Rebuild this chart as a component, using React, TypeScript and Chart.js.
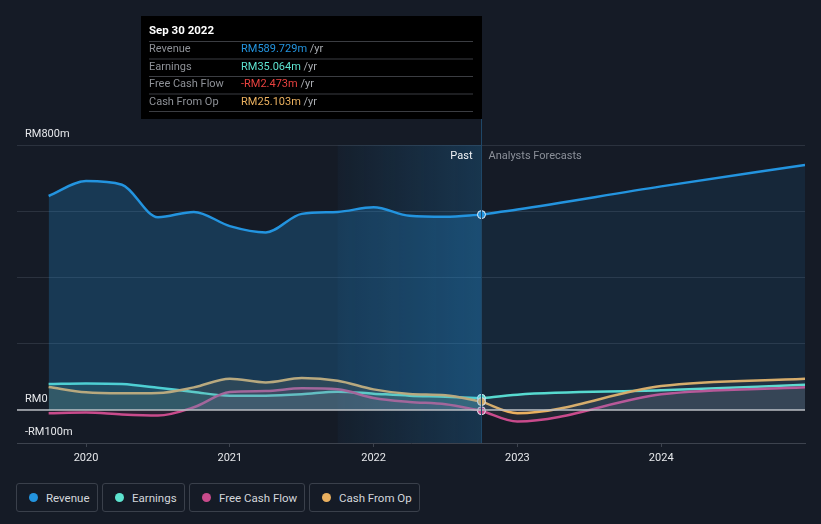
import React, { useEffect, useRef } from "react";
import { Chart, registerables } from "chart.js";

Chart.register(...registerables);

const BG = "#151b26";
const FONT = "Roboto, 'Noto Sans', sans-serif";

// decimal years (quarter ends)
const pastDates = [2019.74, 2020.0, 2020.25, 2020.5, 2020.75, 2021.0, 2021.25, 2021.5, 2021.75, 2022.0, 2022.25, 2022.5, 2022.75];
const revenuePast = [646, 691, 680, 582, 598, 555, 536, 592, 598, 612, 586, 583, 589.729];
const earningsPast = [78, 80, 78, 67, 54, 43, 43, 47, 55, 49, 43, 40, 35.064];
const fcfPast = [-10, -8, -14, -17, 8, 54, 57, 65, 62, 36, 24, 17, -2.473];
const cfoPast = [69, 53, 50, 51, 68, 94, 83, 96, 88, 62, 48, 44, 25.103];

const forecastDates = [2022.75, 2023.0, 2024.0, 2025.0];
const revenueFc = [589.729, 605, 675, 740];
const earningsFc = [35.064, 46, 59, 76];
const fcfFc = [-2.473, -35, 47, 68];
const cfoFc = [25.103, -10, 72, 94];

const yTicks = [-100, 0, 200, 400, 600, 800];
const yLabelTicks = [800, 0, -100];
const xTicks = [2020, 2021, 2022, 2023, 2024];
const X_MIN = 2019.52;
const X_MAX = 2025.0;
const HIGHLIGHT_START = 2021.75;
const NOW = 2022.75;

const COLORS = {
  revenue: "#2394df",
  earnings: "#5de3cf",
  fcf: "#c94b8c",
  cfo: "#eab05f",
};

const tooltipTitle = "Sep 30 2022";
const tooltipRows = [
  { label: "Revenue", value: "RM589.729m", color: "#2394df" },
  { label: "Earnings", value: "RM35.064m", color: "#5de3cf" },
  { label: "Free Cash Flow", value: "-RM2.473m", color: "#e8423f" },
  { label: "Cash From Op", value: "RM25.103m", color: "#eab05f" },
];

const legendItems = [
  { label: "Revenue", color: COLORS.revenue, width: 82 },
  { label: "Earnings", color: COLORS.earnings, width: 83 },
  { label: "Free Cash Flow", color: COLORS.fcf, width: 116 },
  { label: "Cash From Op", color: COLORS.cfo, width: 111 },
];

function fmtY(v: number) {
  if (v === 0) return "RM0";
  if (v < 0) return "-RM" + Math.abs(v) + "m";
  return "RM" + v + "m";
}

function pts(xs: number[], ys: number[]) {
  return xs.map((x, i) => ({ x, y: ys[i] }));
}

export default function App() {
  const ref = useRef<HTMLCanvasElement>(null);

  useEffect(() => {
    document.body.style.margin = "0";
    document.body.style.background = BG;
    const lastIdx = pastDates.length - 1;
    const dot = (c: string) => ({
      pointRadius: (ctx: any) => (ctx.dataIndex === lastIdx ? 4 : 0),
      pointBackgroundColor: c,
      pointBorderColor: "#e8eef5",
      pointBorderWidth: 1,
      pointHoverRadius: 0,
    });
    const lineBase = {
      borderWidth: 2.5,
      cubicInterpolationMode: "monotone" as const,
      tension: 0.4,
    };

    const bgPlugin = {
      id: "bgPlugin",
      beforeDatasetsDraw(chart: any) {
        const { ctx, chartArea, scales } = chart;
        const x0 = scales.x.getPixelForValue(HIGHLIGHT_START);
        const x1 = scales.x.getPixelForValue(NOW);
        const g = ctx.createLinearGradient(x0, 0, x1, 0);
        g.addColorStop(0, "rgba(35,148,223,0.04)");
        g.addColorStop(1, "rgba(35,148,223,0.22)");
        ctx.save();
        ctx.fillStyle = g;
        ctx.fillRect(x0, chartArea.top, x1 - x0, chartArea.bottom - chartArea.top);
        ctx.restore();
      },
      afterDatasetsDraw(chart: any) {
        const { ctx, chartArea, scales } = chart;
        ctx.save();
        const y0 = scales.y.getPixelForValue(0);
        ctx.strokeStyle = "#b9bcc2";
        ctx.lineWidth = 1.5;
        ctx.beginPath();
        ctx.moveTo(chartArea.left, y0);
        ctx.lineTo(chartArea.right, y0);
        ctx.stroke();
        ctx.restore();
      },
      afterDraw(chart: any) {
        const { ctx, chartArea, scales } = chart;
        ctx.save();
        ctx.font = `11px ${FONT}`;
        ctx.fillStyle = "#e6e8eb";
        ctx.textAlign = "left";
        ctx.textBaseline = "bottom";
        for (const v of yLabelTicks) {
          const y = scales.y.getPixelForValue(v);
          ctx.fillText(fmtY(v), chartArea.left + 8, y - 5);
        }
        const xn = Math.round(scales.x.getPixelForValue(NOW)) + 0.5;
        ctx.textBaseline = "middle";
        ctx.textAlign = "right";
        ctx.fillStyle = "#f0f2f5";
        ctx.fillText("Past", xn - 9, chartArea.top + 11);
        ctx.textAlign = "left";
        ctx.fillStyle = "#8b9099";
        ctx.fillText("Analysts Forecasts", xn + 7, chartArea.top + 11);

        const boxTop = 16, boxBottom = 119, boxLeft = 141;
        ctx.strokeStyle = "#1f4767";
        ctx.lineWidth = 1;
        ctx.beginPath();
        ctx.moveTo(xn, boxBottom);
        ctx.lineTo(xn, chartArea.bottom);
        ctx.stroke();

        ctx.fillStyle = "#000000";
        ctx.fillRect(boxLeft, boxTop, xn + 0.5 - boxLeft, boxBottom - boxTop);
        ctx.fillStyle = "#ffffff";
        ctx.font = `bold 11.5px ${FONT}`;
        ctx.textAlign = "left";
        ctx.textBaseline = "middle";
        ctx.fillText(tooltipTitle, 149, 31.5);
        const sepYs = [41, 58.5, 76, 93.5, 111];
        ctx.strokeStyle = "#3b3d42";
        ctx.lineWidth = 1;
        for (const sy of sepYs) {
          ctx.beginPath();
          ctx.moveTo(149, sy + 0.5);
          ctx.lineTo(473, sy + 0.5);
          ctx.stroke();
        }
        ctx.font = `11px ${FONT}`;
        tooltipRows.forEach((r, i) => {
          const cy = 49.5 + i * 17.5;
          ctx.fillStyle = "#8e9197";
          ctx.fillText(r.label, 149, cy);
          ctx.fillStyle = r.color;
          ctx.fillText(r.value, 241, cy);
          const w = ctx.measureText(r.value + " ").width;
          ctx.fillStyle = "#a9acb1";
          ctx.fillText("/yr", 241 + w, cy);
        });
        ctx.restore();
      },
    };

    const chart = new Chart(ref.current!, {
      type: "line",
      data: {
        datasets: [
          {
            label: "Revenue",
            data: pts(pastDates, revenuePast),
            borderColor: COLORS.revenue,
            fill: "origin",
            backgroundColor: "rgba(35,148,223,0.25)",
            ...lineBase,
            ...dot(COLORS.revenue),
          },
          {
            label: "Revenue forecast",
            data: pts(forecastDates, revenueFc),
            borderColor: COLORS.revenue,
            fill: "origin",
            backgroundColor: "rgba(35,148,223,0.1)",
            ...lineBase,
            pointRadius: 0,
          },
          {
            label: "Cash From Op",
            data: pts(pastDates, cfoPast),
            borderColor: COLORS.cfo,
            fill: "origin",
            backgroundColor: "rgba(234,176,95,0.13)",
            ...lineBase,
            ...dot(COLORS.cfo),
          },
          {
            label: "Cash From Op forecast",
            data: pts(forecastDates, cfoFc),
            borderColor: COLORS.cfo,
            fill: "origin",
            backgroundColor: "rgba(200,200,210,0.07)",
            ...lineBase,
            pointRadius: 0,
          },
          {
            label: "Free Cash Flow",
            data: pts(pastDates, fcfPast),
            borderColor: COLORS.fcf,
            fill: "origin",
            backgroundColor: "rgba(201,75,140,0.12)",
            ...lineBase,
            ...dot(COLORS.fcf),
          },
          {
            label: "Free Cash Flow forecast",
            data: pts(forecastDates, fcfFc),
            borderColor: COLORS.fcf,
            fill: "origin",
            backgroundColor: "rgba(200,200,210,0.07)",
            ...lineBase,
            pointRadius: 0,
          },
          {
            label: "Earnings",
            data: pts(pastDates, earningsPast),
            borderColor: COLORS.earnings,
            fill: "origin",
            backgroundColor: "rgba(93,227,207,0.14)",
            ...lineBase,
            ...dot(COLORS.earnings),
          },
          {
            label: "Earnings forecast",
            data: pts(forecastDates, earningsFc),
            borderColor: COLORS.earnings,
            fill: "origin",
            backgroundColor: "rgba(200,200,210,0.07)",
            ...lineBase,
            pointRadius: 0,
          },
        ],
      },
      options: {
        animation: false,
        responsive: true,
        maintainAspectRatio: false,
        layout: { padding: { left: 17, right: 16, top: 145, bottom: 0 } },
        plugins: {
          legend: { display: false },
          tooltip: { enabled: false },
        },
        events: [],
        scales: {
          x: {
            type: "linear",
            min: X_MIN,
            max: X_MAX,
            afterBuildTicks: (s: any) => {
              s.ticks = xTicks.map((v) => ({ value: v }));
            },
            afterFit: (s: any) => {
              s.height = 27;
            },
            ticks: {
              color: "#e6e8eb",
              font: { family: FONT, size: 11 },
              padding: 5,
              maxRotation: 0,
              autoSkip: false,
              callback: (v: any) => String(v),
            },
            grid: {
              drawOnChartArea: false,
              drawTicks: true,
              tickLength: 4,
              color: "#3d434e",
            },
            border: { display: true, color: "#3d434e", width: 1 },
          },
          y: {
            type: "linear",
            min: -100,
            max: 800,
            afterBuildTicks: (s: any) => {
              s.ticks = yTicks.map((v) => ({ value: v }));
            },
            afterFit: (s: any) => {
              s.width = 0;
            },
            ticks: { display: false },
            grid: {
              color: (c: any) => (c.tick && c.tick.value === -100 ? "rgba(0,0,0,0)" : "#2b323e"),
              drawTicks: false,
              lineWidth: 1,
            },
            border: { display: false },
          },
        },
      } as any,
      plugins: [bgPlugin],
    });
    return () => chart.destroy();
  }, []);

  return (
    <div
      style={{
        position: "relative",
        width: 821,
        height: 524,
        background: BG,
        overflow: "hidden",
        fontFamily: FONT,
      }}
    >
      <div style={{ position: "absolute", left: 0, top: 0, width: 821, height: 470 }}>
        <canvas ref={ref} />
      </div>
      <div style={{ position: "absolute", left: 16, top: 483, display: "flex", gap: 4 }}>
        {legendItems.map((it) => (
          <div
            key={it.label}
            style={{
              width: it.width,
              height: 29,
              boxSizing: "border-box",
              border: "1px solid #3a404b",
              borderRadius: 3,
              display: "flex",
              alignItems: "center",
              paddingLeft: 12,
              color: "#d3d6db",
              fontSize: 11.5,
            }}
          >
            <span
              style={{
                display: "inline-block",
                width: 9,
                height: 9,
                borderRadius: 5,
                background: it.color,
                marginRight: 8,
              }}
            />
            {it.label}
          </div>
        ))}
      </div>
    </div>
  );
}
